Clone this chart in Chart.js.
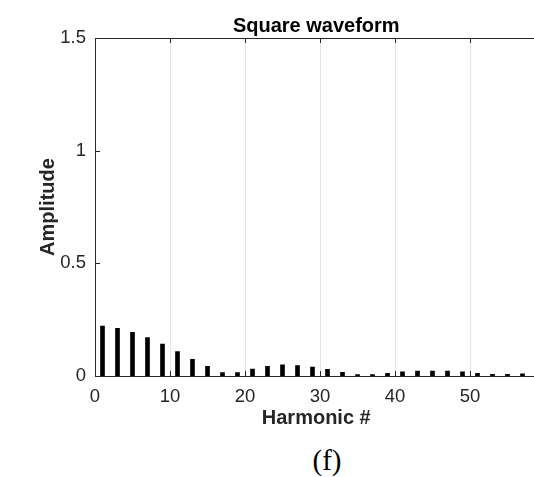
<!DOCTYPE html>
<html>
<head>
<meta charset="utf-8">
<script src="https://cdn.jsdelivr.net/npm/chart.js@4/dist/chart.umd.min.js"></script>
<style>
  html, body { margin: 0; padding: 0; background: #fff; overflow: hidden; }
  #wrap { position: relative; width: 534px; height: 477px; overflow: hidden; }
  #spectrum { position: absolute; left: 0; top: 0; }
  #caption {
    position: absolute; left: 327px; top: 444px; transform: translateX(-50%);
    font-family: "Liberation Serif", "Times New Roman", serif; font-size: 29px; color: #000;
    line-height: 33px; white-space: nowrap;
  }
</style>
</head>
<body>
<div id="wrap">
  <canvas id="spectrum" width="540" height="443"></canvas>
  <div id="caption">(f)</div>
</div>
<script>
// odd harmonics of the square wave and their amplitudes
const harmonics = [1, 3, 5, 7, 9, 11, 13, 15, 17, 19, 21, 23, 25, 27, 29,
                   31, 33, 35, 37, 39, 41, 43, 45, 47, 49, 51, 53, 55, 57];
const amplitudes = [0.222, 0.212, 0.194, 0.170, 0.142, 0.108, 0.074, 0.043, 0.015, 0.015,
                    0.031, 0.043, 0.050, 0.046, 0.040, 0.030, 0.016, 0.006, 0.006, 0.012,
                    0.019, 0.022, 0.022, 0.022, 0.018, 0.012, 0.007, 0.007, 0.010];
const xTicks = [0, 10, 20, 30, 40, 50];
const yTicks = [0, 0.5, 1, 1.5];

const axisColor = '#262626';
const fontFamily = '"Liberation Sans", Arial, sans-serif';

// matlab style: top box edge plus ticks pointing into the plot
const inwardTicks = {
  id: 'inwardTicks',
  afterDraw(chart) {
    const { ctx, chartArea: a, scales } = chart;
    const len = 5;
    ctx.save();
    ctx.strokeStyle = axisColor;
    ctx.lineWidth = 1;
    ctx.beginPath();
    ctx.moveTo(a.left, a.top + 0.5);
    ctx.lineTo(a.right, a.top + 0.5);
    xTicks.forEach(v => {
      const px = Math.round(scales.x.getPixelForValue(v)) + 0.5;
      ctx.moveTo(px, a.top);
      ctx.lineTo(px, a.top + len);
      ctx.moveTo(px, a.bottom);
      ctx.lineTo(px, a.bottom - len);
    });
    yTicks.forEach(v => {
      const py = Math.round(scales.y.getPixelForValue(v)) + 0.5;
      ctx.moveTo(a.left, py);
      ctx.lineTo(a.left + len, py);
    });
    ctx.stroke();
    ctx.restore();
  }
};

new Chart(document.getElementById('spectrum'), {
  type: 'bar',
  data: {
    datasets: [{
      data: harmonics.map((h, i) => ({ x: h, y: amplitudes[i] })),
      backgroundColor: '#000',
      borderWidth: 0,
      barThickness: 4
    }]
  },
  options: {
    responsive: false,
    animation: false,
    layout: { padding: { left: 0, right: 2.5, top: 0, bottom: 0 } },
    scales: {
      x: {
        type: 'linear',
        min: 0,
        max: 59,
        offset: false,
        afterFit(scale) { scale.height = 67; },
        ticks: {
          stepSize: 10,
          includeBounds: false,
          padding: 10,
          color: axisColor,
          font: { family: fontFamily, size: 18.5 }
        },
        grid: { display: true, offset: false, drawTicks: false, color: '#e3e3e3', lineWidth: 1 },
        border: { display: true, color: axisColor, width: 1 },
        title: {
          display: true,
          text: 'Harmonic #',
          color: axisColor,
          font: { family: fontFamily, size: 20, weight: 'bold' },
          padding: { top: 0, bottom: 13 }
        }
      },
      y: {
        min: 0,
        max: 1.5,
        afterFit(scale) { scale.width = 95; },
        ticks: {
          stepSize: 0.5,
          padding: 9,
          color: axisColor,
          font: { family: fontFamily, size: 18.5 },
          callback: v => String(v)
        },
        grid: { display: false, drawTicks: false },
        border: { display: true, color: axisColor, width: 1 },
        title: {
          display: true,
          text: 'Amplitude',
          color: axisColor,
          font: { family: fontFamily, size: 20, weight: 'bold' },
          padding: { top: 36, bottom: 0 }
        }
      }
    },
    plugins: {
      legend: { display: false },
      tooltip: { enabled: false },
      title: {
        display: true,
        fullSize: false,
        text: 'Square waveform',
        color: '#000',
        font: { family: fontFamily, size: 20, weight: 'bold' },
        padding: { top: 14, bottom: 0 }
      }
    }
  },
  plugins: [inwardTicks]
});
</script>
</body>
</html>
